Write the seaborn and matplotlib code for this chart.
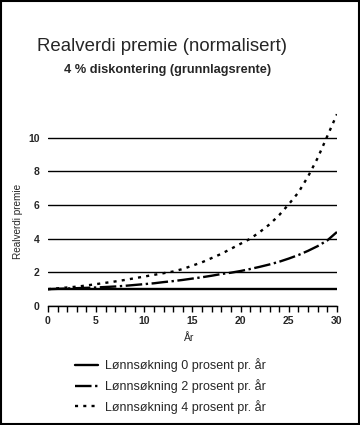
import matplotlib
matplotlib.use("Agg")
import matplotlib.pyplot as plt
import seaborn as sns
import pandas as pd
from matplotlib.patches import Rectangle

years = list(range(0, 31))
series_names = ["Lønnsøkning 0 prosent pr. år",
                "Lønnsøkning 2 prosent pr. år",
                "Lønnsøkning 4 prosent pr. år"]
vals_0 = [1.0] * 31
vals_2 = [1.0, 1.02, 1.04, 1.06, 1.08, 1.10, 1.13, 1.16, 1.20, 1.25, 1.30,
          1.35, 1.42, 1.48, 1.55, 1.63, 1.71, 1.80, 1.90, 1.98, 2.08,
          2.20, 2.33, 2.47, 2.63, 2.82, 3.03, 3.28, 3.56, 3.90, 4.40]
vals_4 = [1.0, 1.05, 1.10, 1.15, 1.22, 1.30, 1.38, 1.46, 1.55, 1.65, 1.75,
          1.85, 1.95, 2.05, 2.20, 2.40, 2.60, 2.85, 3.10, 3.40, 3.70,
          4.00, 4.40, 4.85, 5.40, 6.05, 6.75, 7.70, 8.80, 10.10, 11.40]
y_ticks = [0, 2, 4, 6, 8, 10]
x_ticks = [0, 5, 10, 15, 20, 25, 30]

df = pd.DataFrame({
    "År": years * 3,
    "Realverdi premie": vals_0 + vals_2 + vals_4,
    "Serie": [series_names[0]] * 31 + [series_names[1]] * 31 + [series_names[2]] * 31,
})

sns.set_style("white")
plt.rcParams["font.family"] = ["Liberation Sans", "DejaVu Sans"]

fig = plt.figure(figsize=(3.6, 4.25), dpi=100)
ax = fig.add_axes([0.133, 0.28, 0.803, 0.475])

dashes = {series_names[0]: "",
          series_names[1]: (7, 1.5, 1, 1.5),
          series_names[2]: (1.3, 2.2)}
sns.lineplot(data=df, x="År", y="Realverdi premie", hue="Serie", style="Serie",
             palette=["black"] * 3, dashes=dashes, linewidth=1.7, legend=False, ax=ax)

ax.set_xlim(0, 30)
ax.set_ylim(0, 12)
ax.set_yticks(y_ticks)
ax.set_xticks(x_ticks)
ax.set_xticks(years, minor=True)
ax.grid(axis="y", color="black", linewidth=1.0)
ax.set_axisbelow(True)
for s in ["top", "right", "left"]:
    ax.spines[s].set_visible(False)
ax.spines["bottom"].set_color("black")
ax.spines["bottom"].set_linewidth(1.0)
ax.tick_params(axis="x", which="both", direction="out", length=4, width=1,
               color="black", bottom=True, labelsize=7.5, pad=3)
ax.tick_params(axis="y", length=0, labelsize=7.5, pad=6)
for lab in ax.get_xticklabels() + ax.get_yticklabels():
    lab.set_fontweight("bold")

ax.set_xlabel("År", fontsize=7.5)
ax.xaxis.set_label_coords(0.49, -0.135)
ax.set_ylabel("Realverdi premie", fontsize=7.2)
ax.yaxis.set_label_coords(-0.085, 0.42)

fig.text(0.45, 0.89, "Realverdi premie (normalisert)", ha="center", va="center", fontsize=13.4)
fig.text(0.465, 0.835, "4 % diskontering (grunnlagsrente)", ha="center", va="center",
         fontsize=9.2, fontweight="bold")

handles = ax.lines[:3]
leg = fig.legend(handles, series_names, loc="upper left", bbox_to_anchor=(0.195, 0.169),
                 frameon=False, fontsize=9, handlelength=1.8, handletextpad=0.6,
                 labelspacing=0.55, borderaxespad=0)

fig.patches.append(Rectangle((0.002, 0.002), 0.996, 0.996, transform=fig.transFigure,
                             fill=False, edgecolor="black", linewidth=1.5))

fig.savefig("out.png", dpi=100)
